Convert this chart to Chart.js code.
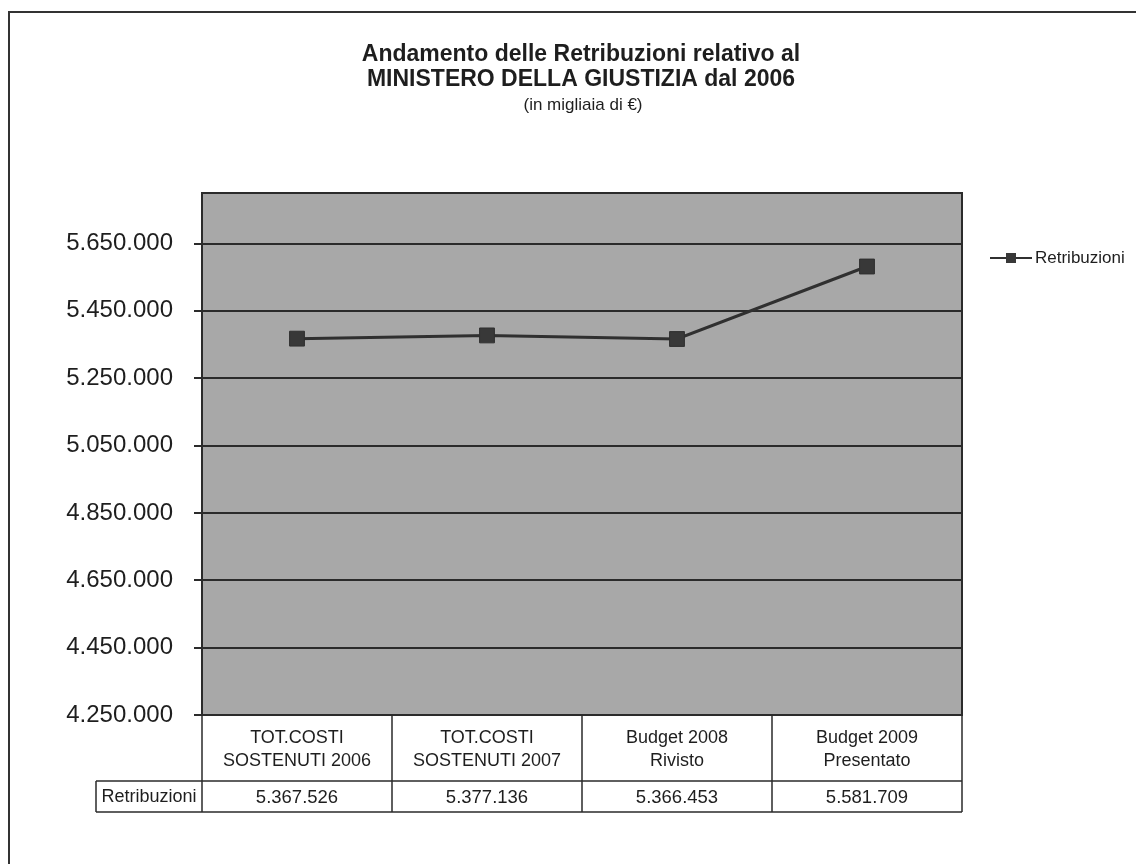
<!DOCTYPE html>
<html>
<head>
<meta charset="utf-8">
<script src="https://cdn.jsdelivr.net/npm/chart.js@4.4.1/dist/chart.umd.min.js"></script>
<style>
  html, body { margin: 0; padding: 0; background: #fff; }
  #wrap { width: 1136px; height: 864px; }
</style>
</head>
<body>
<div id="wrap"><canvas id="chart" width="1136" height="864"></canvas></div>
<script>
const categories = [
  ['TOT.COSTI', 'SOSTENUTI 2006'],
  ['TOT.COSTI', 'SOSTENUTI 2007'],
  ['Budget 2008', 'Rivisto'],
  ['Budget 2009', 'Presentato'],
];
const seriesName = 'Retribuzioni';
const retribuzioni = [5367526, 5377136, 5366453, 5581709];
const yTicks = [4250000, 4450000, 4650000, 4850000, 5050000, 5250000, 5450000, 5650000];
const yMin = 4250000;
const yMax = 5800000;
const titleLines = ['Andamento delle Retribuzioni relativo al', 'MINISTERO DELLA GIUSTIZIA dal 2006'];
const subtitle = '(in migliaia di €)';

const FONT = "'Liberation Sans', Arial, sans-serif";
const INK = '#2b2b2b';

const fmt = v => String(v).replace(/\B(?=(\d{3})+(?!\d))/g, '.');

// background, frame, title, legend and data table
const decor = {
  id: 'decor',
  beforeDraw(chart) {
    const { ctx, chartArea: a } = chart;
    ctx.save();
    ctx.fillStyle = '#a8a8a8';
    ctx.fillRect(a.left, a.top, a.right - a.left, a.bottom - a.top);
    ctx.restore();
  },
  beforeDatasetsDraw(chart) {
    const { ctx, chartArea: a } = chart;
    ctx.save();
    ctx.strokeStyle = INK;
    ctx.lineWidth = 2;
    ctx.strokeRect(a.left, a.top, a.right - a.left, a.bottom - a.top);
    ctx.restore();
  },
  afterDraw(chart) {
    const { ctx, chartArea: a, width, height } = chart;
    const x = chart.scales.x;
    ctx.save();

    // outer frame (left + top only visible)
    ctx.strokeStyle = '#333';
    ctx.lineWidth = 2;
    ctx.beginPath();
    ctx.moveTo(width, 12);
    ctx.lineTo(9, 12);
    ctx.lineTo(9, height);
    ctx.stroke();

    // title
    ctx.fillStyle = '#1e1e1e';
    ctx.textAlign = 'center';
    ctx.textBaseline = 'middle';
    ctx.font = `bold 23px ${FONT}`;
    ctx.fillText(titleLines[0], 581, 55);
    ctx.fillText(titleLines[1], 581, 80);
    ctx.font = `17px ${FONT}`;
    ctx.fillText(subtitle, 583, 105);

    // legend
    const ds = chart.data.datasets[0];
    const ly = 258;
    ctx.strokeStyle = ds.borderColor;
    ctx.lineWidth = 2;
    ctx.beginPath();
    ctx.moveTo(990, ly);
    ctx.lineTo(1032, ly);
    ctx.stroke();
    ctx.fillStyle = ds.pointBackgroundColor;
    ctx.fillRect(1006, ly - 5, 10, 10);
    ctx.fillStyle = '#1e1e1e';
    ctx.textAlign = 'left';
    ctx.font = `17px ${FONT}`;
    ctx.fillText(ds.label, 1035, ly);

    // data table under the plot
    const half = (x.getPixelForValue(1) - x.getPixelForValue(0)) / 2;
    const r1 = a.bottom, r2 = 781, r3 = 812;
    const headLeft = 96;
    ctx.strokeStyle = INK;
    ctx.lineWidth = 1.5;
    ctx.beginPath();
    ctx.moveTo(headLeft, r2); ctx.lineTo(a.right, r2);
    ctx.moveTo(headLeft, r3); ctx.lineTo(a.right, r3);
    ctx.moveTo(headLeft, r2); ctx.lineTo(headLeft, r3);
    for (let i = 0; i <= categories.length; i++) {
      const px = i < categories.length ? x.getPixelForValue(i) - half : x.getPixelForValue(i - 1) + half;
      ctx.moveTo(px, r1); ctx.lineTo(px, r3);
    }
    ctx.stroke();

    ctx.fillStyle = '#1e1e1e';
    ctx.textAlign = 'center';
    ctx.font = `18px ${FONT}`;
    categories.forEach((lines, i) => {
      const cx = x.getPixelForValue(i);
      ctx.fillText(lines[0], cx, 738);
      ctx.fillText(lines[1], cx, 761);
    });
    ctx.font = `18.5px ${FONT}`;
    ds.data.forEach((v, i) => {
      ctx.fillText(fmt(v), x.getPixelForValue(i), (r2 + r3) / 2 + 1);
    });
    ctx.font = `18px ${FONT}`;
    ctx.fillText(ds.label, (headLeft + a.left) / 2, (r2 + r3) / 2 + 1);

    ctx.restore();
  }
};

new Chart(document.getElementById('chart').getContext('2d'), {
  type: 'line',
  data: {
    labels: categories,
    datasets: [{
      label: seriesName,
      data: retribuzioni,
      borderColor: '#303030',
      borderWidth: 3,
      pointStyle: 'rect',
      pointRadius: 10.5,
      pointBorderWidth: 1,
      pointBackgroundColor: '#383838',
      pointBorderColor: '#303030',
      tension: 0,
    }],
  },
  options: {
    responsive: false,
    animation: false,
    layout: { padding: { left: 0, top: 193, right: 174, bottom: 0 } },
    plugins: {
      legend: { display: false },
      tooltip: { enabled: false },
      title: { display: false },
    },
    scales: {
      x: {
        offset: true,
        grid: { display: false },
        border: { display: false },
        ticks: { display: false },
        afterFit: s => { s.height = 149; },
      },
      y: {
        min: yMin,
        max: yMax,
        afterBuildTicks: s => { s.ticks = yTicks.map(v => ({ value: v })); },
        afterFit: s => { s.width = 202; },
        border: { display: false },
        grid: {
          color: INK,
          lineWidth: 2,
          tickLength: 8,
          tickColor: INK,
          drawTicks: true,
        },
        ticks: {
          padding: 21,
          color: '#1e1e1e',
          font: { family: FONT, size: 24 },
          callback: v => fmt(v),
        },
      },
    },
  },
  plugins: [decor],
});
</script>
</body>
</html>
